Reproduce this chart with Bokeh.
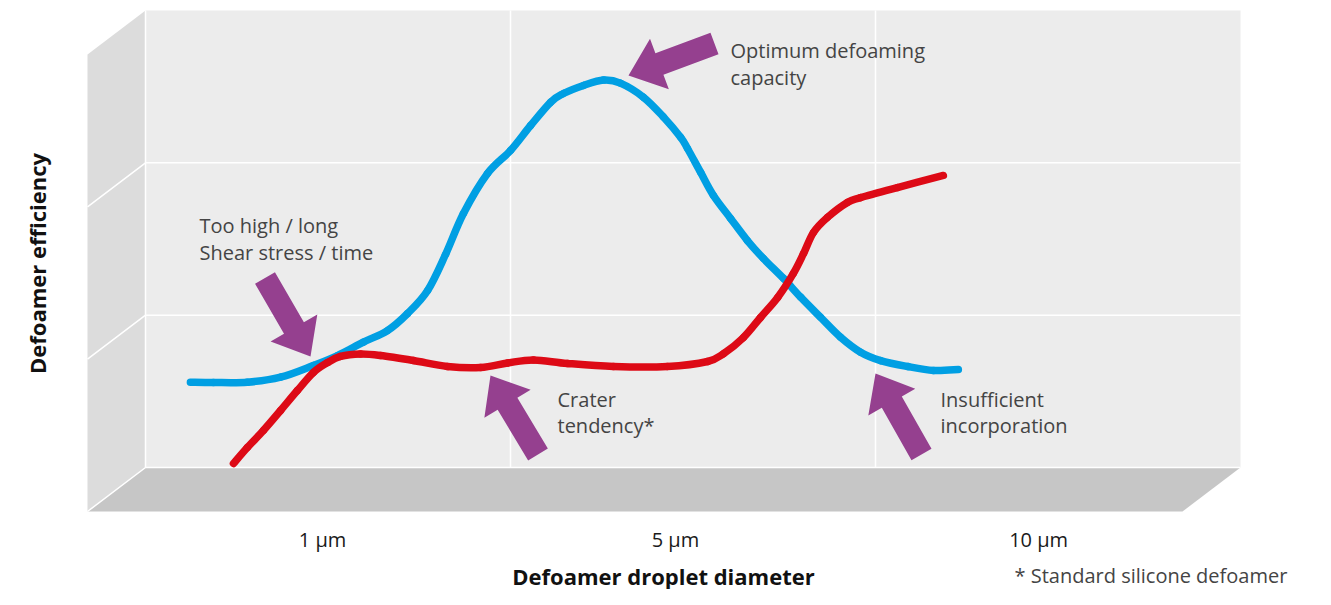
import math
from bokeh.plotting import figure
from bokeh.models import Range1d
from bokeh.core.properties import value
from bokeh.embed import file_html
from bokeh.resources import INLINE

# ---------------- data (chart units: x = column position on the back wall, y = efficiency level) ----
tick_labels = ["1 µm", "5 µm", "10 µm"]
tick_positions = [0.485, 1.452, 2.447]

blue_x = [0.123, 0.186, 0.279, 0.370, 0.460, 0.526, 0.597, 0.663, 0.718, 0.773, 0.822, 0.871,
          0.937, 1.000, 1.055, 1.110, 1.145, 1.200, 1.255, 1.301, 1.364, 1.419, 1.466, 1.485,
          1.521, 1.556, 1.603, 1.649, 1.693, 1.748, 1.795, 1.849, 1.904, 1.959, 2.014, 2.088,
          2.159, 2.227]
blue_y = [0.560, 0.558, 0.560, 0.593, 0.670, 0.735, 0.823, 0.899, 1.011, 1.162, 1.398, 1.667,
          1.930, 2.081, 2.245, 2.398, 2.455, 2.508, 2.543, 2.523, 2.431, 2.301, 2.168, 2.094,
          1.937, 1.786, 1.635, 1.490, 1.372, 1.241, 1.118, 0.987, 0.856, 0.757, 0.702, 0.663,
          0.637, 0.643]

red_x = [0.241, 0.279, 0.323, 0.370, 0.416, 0.460, 0.499, 0.534, 0.589, 0.644, 0.734, 0.827,
         0.918, 0.992, 1.063, 1.156, 1.282, 1.430, 1.540, 1.584, 1.638, 1.685, 1.732, 1.775,
         1.803, 1.830, 1.868, 1.923, 1.959, 2.060, 2.186]
red_y = [0.026, 0.131, 0.243, 0.374, 0.505, 0.624, 0.689, 0.729, 0.745, 0.735, 0.702, 0.663,
         0.656, 0.686, 0.706, 0.683, 0.663, 0.663, 0.696, 0.748, 0.853, 0.985, 1.116, 1.274,
         1.405, 1.543, 1.641, 1.740, 1.772, 1.838, 1.917]

# ---------------- layout helpers (pixel positions -> chart units) ----------------
COL = 365.0
ROW = 152.333
X0 = 145.0
Y0 = 467.0
W, H = 1315, 589
TXT = 8.0   # renderer places alphabetic baselines about this much lower


def X(px):
    return (px - X0) / COL


def Y(py):
    return (Y0 - py) / ROW


DX = -58.0 / COL   # depth offset of the box (towards viewer)
DY = -44.0 / ROW
TOP = 3.0
RIGHT = 3.0

p = figure(width=W, height=H,
           x_range=Range1d(X(0), X(W)), y_range=Range1d(Y(H), Y(0)),
           output_backend="svg", toolbar_location=None, min_border=0,
           x_axis_location=None, y_axis_location=None)
p.grid.visible = False
p.outline_line_color = None
p.background_fill_color = "white"
p.border_fill_color = "white"

# left wall
p.patch([0 + DX, 0, 0, 0 + DX], [TOP + DY, TOP, 0, DY],
        fill_color="#dcdcdc", line_color=None)
# back wall
p.patch([0, RIGHT, RIGHT, 0], [0, 0, TOP, TOP], fill_color="#ececec", line_color=None)
# floor
p.patch([0, RIGHT, RIGHT + DX, 0 + DX], [0, 0, DY, DY], fill_color="#c6c6c6", line_color=None)

# white grid / edges
grid_xs, grid_ys = [], []
for lv in [1, 2]:
    grid_xs.append([0 + DX, 0, RIGHT])
    grid_ys.append([lv + DY, lv, lv])
for lx in [1, 2]:
    grid_xs.append([lx, lx])
    grid_ys.append([0, TOP])
grid_xs.append([0 + DX, 0, RIGHT])
grid_ys.append([DY, 0, 0])
grid_xs.append([0, 0])
grid_ys.append([0, TOP])
p.multi_line(grid_xs, grid_ys, line_color="white", line_width=1.5)


# smooth curves through the read points (Catmull-Rom rendered as cubic Bezier segments)
def smooth(xs, ys):
    n = len(xs)
    x0, y0, x1, y1, cx0, cy0, cx1, cy1 = [], [], [], [], [], [], [], []
    for i in range(n - 1):
        a = max(i - 1, 0)
        d = min(i + 2, n - 1)
        x0.append(xs[i]); y0.append(ys[i])
        x1.append(xs[i + 1]); y1.append(ys[i + 1])
        cx0.append(xs[i] + (xs[i + 1] - xs[a]) / 6.0)
        cy0.append(ys[i] + (ys[i + 1] - ys[a]) / 6.0)
        cx1.append(xs[i + 1] - (xs[d] - xs[i]) / 6.0)
        cy1.append(ys[i + 1] - (ys[d] - ys[i]) / 6.0)
    return dict(x0=x0, y0=y0, x1=x1, y1=y1, cx0=cx0, cy0=cy0, cx1=cx1, cy1=cy1)


p.bezier(**smooth(blue_x, blue_y), line_color="#009fe3", line_width=7.5, line_cap="round")
p.bezier(**smooth(red_x, red_y), line_color="#dd0a16", line_width=7.5, line_cap="round")


# arrows
def arrow(tail, tip, sw=11.5, hw=27.0, hl=33.0):
    tx, ty = tail
    hx, hy = tip
    L = math.hypot(hx - tx, hy - ty)
    ux, uy = (hx - tx) / L, (hy - ty) / L
    nx, ny = -uy, ux
    bx, by = hx - ux * hl, hy - uy * hl
    pts = [(tx + nx * sw, ty + ny * sw), (bx + nx * sw, by + ny * sw),
           (bx + nx * hw, by + ny * hw), (hx, hy),
           (bx - nx * hw, by - ny * hw), (bx - nx * sw, by - ny * sw),
           (tx - nx * sw, ty - ny * sw)]
    return [X(a) for a, b in pts], [Y(b) for a, b in pts]


ARROW = "#95408f"
for tail, tip in [((264.5, 277.5), (310, 356)),
                  ((714, 43), (628, 75)),
                  ((537.5, 454), (490, 375)),
                  ((921, 454), (875, 373))]:
    ax, ay = arrow(tail, tip)
    p.patch(ax, ay, fill_color=ARROW, line_color=None)

# annotations
FONT = value("Open Sans")
notes = [("Too high / long", 199, 233), ("Shear stress / time", 199, 260),
         ("Optimum defoaming", 730, 58), ("capacity", 730, 84.5),
         ("Crater", 557, 406.5), ("tendency*", 557, 432.5),
         ("Insufficient", 940, 406.5), ("incorporation", 940, 432.5)]
p.text(x=[X(n[1]) for n in notes], y=[Y(n[2] - TXT) for n in notes], text=[n[0] for n in notes],
       text_font=FONT, text_font_size="20px", text_color="#444444",
       text_align="left", text_baseline="alphabetic")

# tick labels
p.text(x=tick_positions, y=[Y(547 - TXT)] * len(tick_positions), text=tick_labels,
       text_font=FONT, text_font_size="20px", text_color="#1a1a1a",
       text_align="center", text_baseline="alphabetic")

# axis titles
p.text(x=[X(663)], y=[Y(584 - 9)], text=["Defoamer droplet diameter"],
       text_font=FONT, text_font_size="22px", text_font_style="bold", text_color="#111111",
       text_align="center", text_baseline="alphabetic")
p.text(x=[X(45 - 9)], y=[Y(263)], text=["Defoamer efficiency"], angle=math.pi / 2,
       text_font=FONT, text_font_size="22px", text_font_style="bold", text_color="#111111",
       text_align="center", text_baseline="alphabetic")
p.text(x=[X(1014)], y=[Y(583 - TXT)], text=["* Standard silicone defoamer"],
       text_font=FONT, text_font_size="20px", text_color="#444444",
       text_align="left", text_baseline="alphabetic")

open("out.html", "w").write(file_html(p, INLINE))
